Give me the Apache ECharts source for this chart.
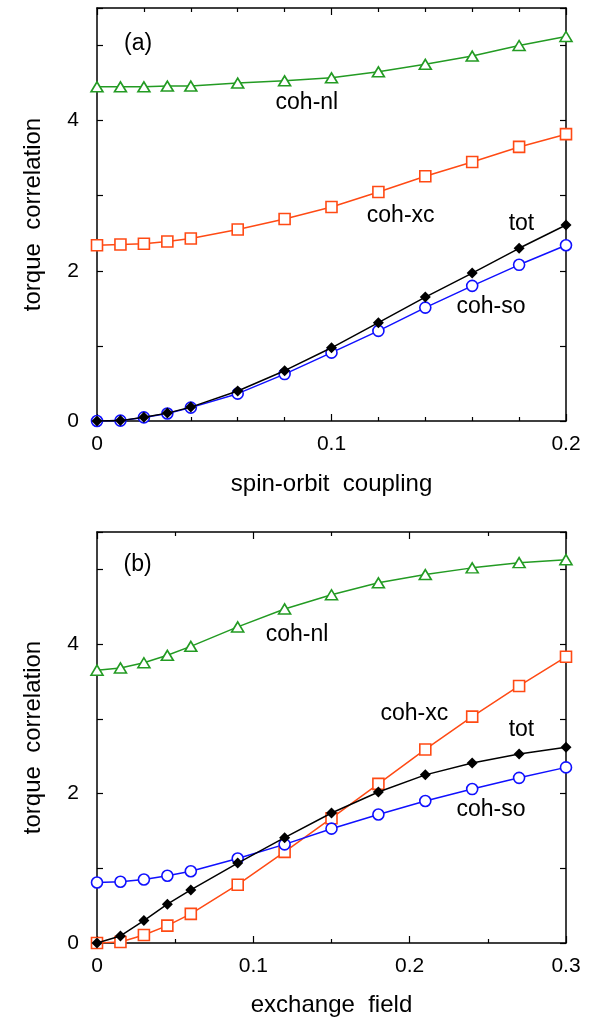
<!DOCTYPE html>
<html>
<head>
<meta charset="utf-8">
<script src="https://cdn.jsdelivr.net/npm/echarts@6/dist/echarts.min.js"></script>
<style>
  html, body { margin: 0; padding: 0; background: #fff; }
  #chart { width: 601px; height: 1020px; }
</style>
</head>
<body>
<div id="chart"></div>
<script>
// Panel (a): torque correlation versus spin-orbit coupling
const socX = [0, 0.01, 0.02, 0.03, 0.04, 0.06, 0.08, 0.1, 0.12, 0.14, 0.16, 0.18, 0.2];
const socNl = [4.45, 4.45, 4.45, 4.46, 4.46, 4.50, 4.53, 4.57, 4.65, 4.75, 4.86, 5.00, 5.12];
const socXc = [2.34, 2.35, 2.36, 2.39, 2.43, 2.55, 2.69, 2.85, 3.05, 3.26, 3.45, 3.65, 3.82];
const socTot = [0, 0.005, 0.05, 0.105, 0.185, 0.40, 0.67, 0.975, 1.31, 1.65, 1.97, 2.30, 2.61];
const socSo = [0, 0.005, 0.048, 0.10, 0.178, 0.364, 0.625, 0.91, 1.20, 1.51, 1.80, 2.08, 2.34];

// Panel (b): torque correlation versus exchange field
const excX = [0, 0.015, 0.03, 0.045, 0.06, 0.09, 0.12, 0.15, 0.18, 0.21, 0.24, 0.27, 0.3];
const excNl = [3.65, 3.68, 3.75, 3.85, 3.97, 4.23, 4.47, 4.66, 4.82, 4.93, 5.02, 5.09, 5.13];
const excXc = [0, 0.013, 0.107, 0.233, 0.39, 0.78, 1.22, 1.67, 2.13, 2.59, 3.03, 3.44, 3.83];
const excTot = [0, 0.094, 0.30, 0.52, 0.71, 1.07, 1.41, 1.74, 2.02, 2.25, 2.41, 2.53, 2.62];
const excSo = [0.81, 0.82, 0.85, 0.90, 0.96, 1.13, 1.32, 1.53, 1.72, 1.90, 2.06, 2.21, 2.35];

// Axis ranges and tick labels
const yRange = [0, 5.5];
const yLabels = [0, 2, 4];
const socRange = [0, 0.2];
const excRange = [0, 0.3];
const xLabelText = { 0: '0', 1: '0.1', 2: '0.2', 3: '0.3' };
const axisTitles = {
  y: 'torque  correlation',
  soc: 'spin-orbit  coupling',
  exc: 'exchange  field'
};

// In-plot annotations, positioned in data coordinates
const socNotes = [
  { text: '(a)', x: 0.0175, y: 5.03 },
  { text: 'coh-nl', x: 0.0895, y: 4.24 },
  { text: 'coh-xc', x: 0.1295, y: 2.74 },
  { text: 'tot', x: 0.181, y: 2.63 },
  { text: 'coh-so', x: 0.168, y: 1.52 }
];
const excNotes = [
  { text: '(b)', x: 0.026, y: 5.06 },
  { text: 'coh-nl', x: 0.128, y: 4.12 },
  { text: 'coh-xc', x: 0.203, y: 3.07 },
  { text: 'tot', x: 0.2715, y: 2.85 },
  { text: 'coh-so', x: 0.252, y: 1.78 }
];

const FONT = '"Liberation Sans", Arial, Helvetica, sans-serif';
const GREEN = '#239b23';
const ORANGE = '#ff4a14';
const BLUE = '#1010ff';
const BLACK = '#000000';

const chart = echarts.init(document.getElementById('chart'), null, { renderer: 'canvas' });

const zip = (xs, ys) => xs.map((x, i) => [x, ys[i]]);

function xAxisPair(gridIndex, range, split, title, nameGap) {
  const common = {
    type: 'value', gridIndex, min: range[0], max: range[1], interval: 0.1,
    axisLine: { show: true, onZero: false, lineStyle: { color: BLACK, width: 1.5 } },
    axisTick: { show: true, inside: true, length: 7, lineStyle: { color: BLACK, width: 1.2 } },
    minorTick: { show: true, splitNumber: split, length: 4, lineStyle: { color: BLACK, width: 1.2 } },
    splitLine: { show: false }
  };
  return [
    Object.assign({}, common, {
      position: 'bottom',
      name: title, nameLocation: 'middle', nameGap,
      nameTextStyle: { fontFamily: FONT, fontSize: 24, color: BLACK },
      axisLabel: {
        fontFamily: FONT, fontSize: 21, color: BLACK, margin: 13,
        formatter: v => xLabelText[Math.round(v * 10)] || ''
      }
    }),
    Object.assign({}, common, { position: 'top', axisLabel: { show: false } })
  ];
}

function yAxisPair(gridIndex) {
  const common = {
    type: 'value', gridIndex, min: yRange[0], max: yRange[1], interval: 1,
    axisLine: { show: true, onZero: false, lineStyle: { color: BLACK, width: 1.5 } },
    axisTick: { show: true, inside: true, length: 6, lineStyle: { color: BLACK, width: 1.2 } },
    splitLine: { show: false }
  };
  return [
    Object.assign({}, common, {
      position: 'left',
      name: axisTitles.y, nameLocation: 'middle', nameGap: 52,
      nameTextStyle: { fontFamily: FONT, fontSize: 24, color: BLACK },
      axisLabel: {
        fontFamily: FONT, fontSize: 21, color: BLACK, margin: 18,
        formatter: v => (yLabels.indexOf(v) >= 0 ? String(v) : '')
      }
    }),
    Object.assign({}, common, { position: 'right', axisLabel: { show: false } })
  ];
}

const triangle = 'path://M0,10 L6,0 L12,10 Z';
const diamond = 'path://M5,0 L10,5 L5,10 L0,5 Z';

function line(name, xi, yi, data, color, symbol, size, filled) {
  return {
    name, type: 'line', xAxisIndex: xi, yAxisIndex: yi, data,
    symbol, symbolSize: size, showSymbol: true, animation: false,
    lineStyle: { color, width: 1.5 },
    itemStyle: { color: filled ? color : '#ffffff', borderColor: color, borderWidth: filled ? 0 : 1.6 },
    z: filled ? 4 : 3
  };
}

const series = [
  line('coh-nl', 0, 0, zip(socX, socNl), GREEN, triangle, [12, 10], false),
  line('coh-xc', 0, 0, zip(socX, socXc), ORANGE, 'rect', 11, false),
  line('coh-so', 0, 0, zip(socX, socSo), BLUE, 'circle', 11, false),
  line('tot', 0, 0, zip(socX, socTot), BLACK, diamond, 11, true),
  line('coh-nl', 2, 2, zip(excX, excNl), GREEN, triangle, [12, 10], false),
  line('coh-xc', 2, 2, zip(excX, excXc), ORANGE, 'rect', 11, false),
  line('coh-so', 2, 2, zip(excX, excSo), BLUE, 'circle', 11, false),
  line('tot', 2, 2, zip(excX, excTot), BLACK, diamond, 11, true)
];

chart.setOption({
  backgroundColor: '#ffffff',
  animation: false,
  grid: [
    { left: 97, top: 8, width: 469, height: 413 },
    { left: 97, top: 532, width: 469, height: 411 }
  ],
  xAxis: [
    ...xAxisPair(0, socRange, 5, axisTitles.soc, 51),
    ...xAxisPair(1, excRange, 2, axisTitles.exc, 50)
  ],
  yAxis: [...yAxisPair(0), ...yAxisPair(1)],
  series
});

// Place the text annotations via the axes' coordinate mapping
function notesToGraphic(notes, xi, yi) {
  return notes.map(n => {
    const p = chart.convertToPixel({ xAxisIndex: xi, yAxisIndex: yi }, [n.x, n.y]);
    return {
      type: 'text', x: p[0], y: p[1], z: 10,
      style: {
        text: n.text, fill: BLACK, font: '23px ' + FONT,
        textAlign: 'center', textVerticalAlign: 'middle'
      }
    };
  });
}

chart.setOption({
  graphic: [...notesToGraphic(socNotes, 0, 0), ...notesToGraphic(excNotes, 2, 2)]
});
</script>
</body>
</html>
